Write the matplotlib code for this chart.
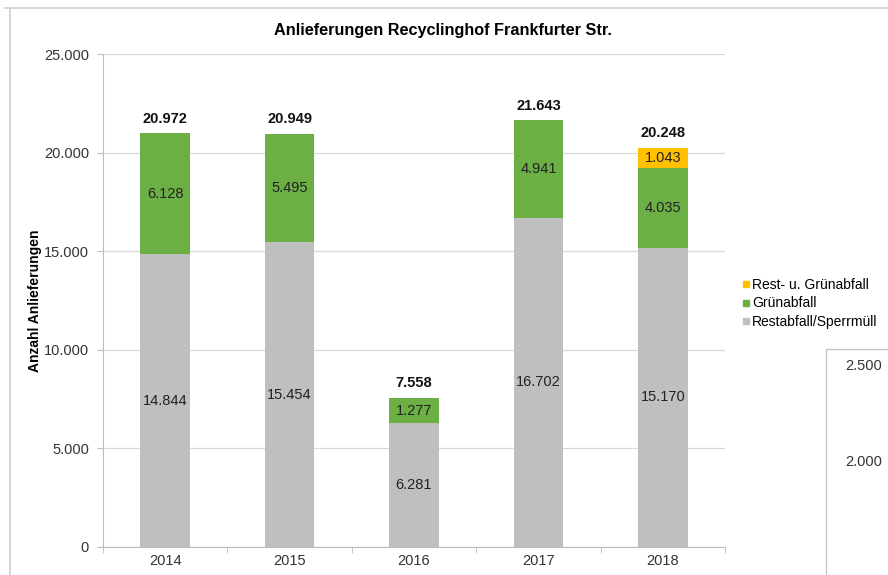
import matplotlib
matplotlib.use("Agg")
import matplotlib.pyplot as plt
from matplotlib.patches import Rectangle
from matplotlib.lines import Line2D
import numpy as np

plt.rcParams['font.family'] = ['Liberation Sans', 'DejaVu Sans']

years = ["2014", "2015", "2016", "2017", "2018"]
restabfall = [14844, 15454, 6281, 16702, 15170]
gruenabfall = [6128, 5495, 1277, 4941, 4035]
rest_gruen = [0, 0, 0, 0, 1043]
series_names = ["Restabfall/Sperrmüll", "Grünabfall", "Rest- u. Grünabfall"]
yticks = [0, 5000, 10000, 15000, 20000, 25000]
ytick_labels = ["0", "5.000", "10.000", "15.000", "20.000", "25.000"]
title = "Anlieferungen Recyclinghof Frankfurter Str."
ylabel = "Anzahl Anlieferungen"
inset_labels = ["2.500", "2.000"]

colors = ["#BFBFBF", "#6BAF45", "#FFC000"]

def fmt(v):
    return f"{v:,}".replace(",", ".")

FS = 10.5

fig = plt.figure(figsize=(8.88, 5.75), dpi=100)
ax = fig.add_axes([103/888, 1-547/575, (725-103)/888, (547-54)/575])

x = np.arange(len(years))
w = 0.4
bottoms = np.zeros(len(years))
for vals, col, name in zip([restabfall, gruenabfall, rest_gruen], colors, series_names):
    vals = np.array(vals)
    ax.bar(x, vals, w, bottom=bottoms, color=col, label=name, zorder=2)
    for xi, b, v in zip(x, bottoms, vals):
        if v > 0:
            ax.text(xi, b + v/2, fmt(int(v)), ha="center", va="center",
                    fontsize=FS, color="#222222", zorder=3)
    bottoms = bottoms + vals

for xi, t in zip(x, bottoms):
    ax.annotate(fmt(int(t)), (xi, t), xytext=(0, 10.5), textcoords="offset points",
                ha="center", va="center", fontsize=FS, fontweight="bold", color="#111111")

ax.set_xlim(-0.5, len(years)-0.5)
ax.set_ylim(0, 25000)
ax.set_yticks(yticks)
ax.set_yticklabels(ytick_labels, fontsize=FS, color="#333333")
ax.set_xticks(x)
ax.set_xticklabels(years, fontsize=FS, color="#333333")
ax.set_xticks(np.arange(-0.5, len(years), 1.0), minor=True)
ax.tick_params(axis="x", which="major", length=0, pad=5)
ax.tick_params(axis="x", which="minor", length=4, color="#BBBBBB", direction="out")
ax.tick_params(axis="y", length=4, color="#BBBBBB", pad=6)
ax.grid(axis="y", color="#D9D9D9", linewidth=0.9, zorder=0)
ax.set_axisbelow(True)
for s in ["top", "right"]:
    ax.spines[s].set_visible(False)
ax.spines["left"].set_color("#BBBBBB")
ax.spines["bottom"].set_color("#BBBBBB")
ax.set_ylabel(ylabel, fontsize=10, fontweight="bold", labelpad=1.5)

fig.text(443/888, 1-30/575, title, ha="center", va="center", fontsize=11.7, fontweight="bold")

# legend
handles = [Line2D([0], [0], marker="s", linestyle="none", markersize=4.5,
                  markerfacecolor=c, markeredgecolor=c) for c in colors[::-1]]
fig.legend(handles, series_names[::-1], loc="upper left",
           bbox_to_anchor=(735/888, 1-272/575), frameon=False, fontsize=10,
           handletextpad=0.05, labelspacing=0.35, handlelength=0.8, borderaxespad=0)

# outer frame lines
fig.add_artist(Line2D([5/888, 1], [1-8/575, 1-8/575], color="#D0D0D0", linewidth=1.2))
fig.add_artist(Line2D([10/888, 10/888], [0, 1-8/575], color="#D0D0D0", linewidth=1.2))

# partial second chart box
fig.add_artist(Rectangle((826/888, -0.01), 0.2, 1-349/575+0.01, transform=fig.transFigure,
                         facecolor="white", edgecolor="#C8C8C8", linewidth=1.0))
for lab, yy in zip(inset_labels, [366, 462]):
    fig.text(845/888, 1-yy/575, lab, ha="left", va="center", fontsize=FS, color="#333333")

fig.savefig("out.png", dpi=100)
